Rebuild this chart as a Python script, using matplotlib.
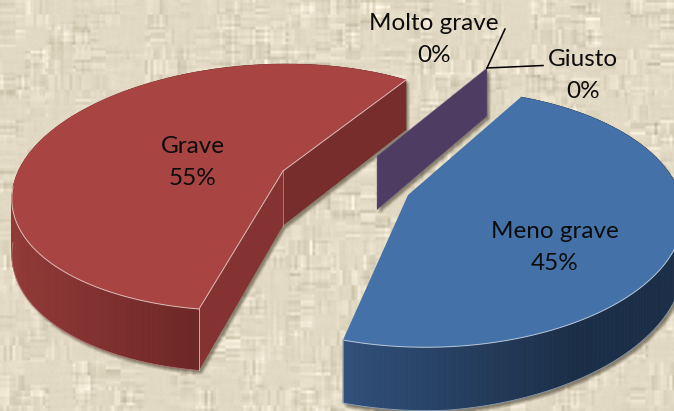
import numpy as np
import matplotlib
matplotlib.use('Agg')
import matplotlib.pyplot as plt
from matplotlib.patches import Polygon
from matplotlib.path import Path
from matplotlib.colors import to_rgb

categories = ['Molto grave', 'Grave', 'Meno grave', 'Giusto']
values = [0, 55, 45, 0]
label_xy = [(434, 23.5), (193, 146.5), (555, 231.5), (583, 59.5)]

W, H_PX = 674, 411
plt.rcParams['font.family'] = ['Lato', 'DejaVu Sans']


def dlt(w, p):
    A = []
    for (x, y), (u, v) in zip(w, p):
        A.append([x, y, 1, 0, 0, 0, -u*x, -u*y, -u])
        A.append([0, 0, 0, x, y, 1, -v*x, -v*y, -v])
    return np.linalg.svd(np.array(A))[2][-1].reshape(3, 3)


def proj(H, w):
    w = np.atleast_2d(w)
    q = H @ np.c_[w, np.ones(len(w))].T
    return (q[:2] / q[2]).T


def circ(t):
    t = np.radians(t)
    return np.c_[np.cos(t), np.sin(t)]


def depth(p):
    p = np.atleast_2d(p)
    return 46 + 0.05 * p[:, 1] - 0.03 * np.clip(p[:, 0] - 450, 0, None)


def lower(p):
    p = np.atleast_2d(p).astype(float)
    return np.c_[p[:, 0], p[:, 1] + depth(p)]


def mix(c1, c2, f):
    return tuple(np.array(to_rgb(c1)) * (1 - f) + np.array(to_rgb(c2)) * f)


def blur(a, n):
    pad = n
    b = np.pad(a, pad, mode='edge')
    k = np.ones(n) / n
    b = np.apply_along_axis(lambda r: np.convolve(r, k, mode='same'), 0, b)
    b = np.apply_along_axis(lambda r: np.convolve(r, k, mode='same'), 1, b)
    return b[pad:-pad, pad:-pad]


def burlap():
    rng = np.random.default_rng(11)
    yy, xx = H_PX, W
    seg = 15
    rows = rng.normal(size=(yy // 3 + 2, xx // seg + 2))
    rows = np.kron(rows, np.ones((3, seg)))[:yy, :xx]
    cols = rng.normal(size=(yy // seg + 2, xx // 3 + 2))
    cols = np.kron(cols, np.ones((seg, 3)))[:yy, :xx]
    weight = blur(np.kron(rng.random((yy // 24 + 2, xx // 24 + 2)),
                          np.ones((24, 24)))[:yy, :xx], 6)
    weight = np.clip((weight - 0.3) * 2.4, 0.1, 1)
    ink = blur(rows, 2) * weight + blur(cols, 2) * weight[::-1, ::-1]
    g = 8.0 * ink + 2.0 * blur(rng.normal(size=(yy, xx)), 2)
    base = np.array([226, 218, 196], float)
    img = base[None, None] + g[..., None] * np.array([1.0, 1.0, 1.1])
    return np.clip(img, 0, 255).astype(np.uint8)


cum = np.cumsum(values) * 3.6
a0, a1, a2 = cum[0], cum[1], cum[2]

red_apex, blue_apex = (283, 171), (408, 195)
H_red = dlt(np.vstack([[0, 0], circ(a0), circ(a1), circ(127)]),
            [red_apex, (406, 80), (199, 309), (13, 187)])
H_blue = dlt(np.vstack([[0, 0], circ(a1), circ(a2), circ(261)]),
             [blue_apex, (343, 340), (521, 97), (640, 288)])

rim_red = proj(H_red, circ(np.linspace(a0, a1, 160)))
rim_blue = proj(H_blue, circ(np.linspace(a1, a2, 160)))
c_red = proj(H_red, [[0, 0]])
c_blue = proj(H_blue, [[0, 0]])
wall = np.array([(377, 156), (487, 68)], float)


def side_quad(a, b):
    return np.vstack([a, b, lower(b), lower(a)])


fig = plt.figure(figsize=(W / 100, H_PX / 100), dpi=100)
ax = fig.add_axes([0, 0, 1, 1])
ax.set_xlim(0, W); ax.set_ylim(H_PX, 0); ax.axis('off')
ax.imshow(burlap(), extent=(0, W, H_PX, 0), zorder=0, aspect='auto', interpolation='bilinear')

# soft shadow from the silhouette of all pieces (computed shifted)
gx, gy = np.meshgrid(np.arange(W) + .5 - 2, np.arange(H_PX) + .5 - 3)
grid = np.c_[gx.ravel(), gy.ravel()]
sil = np.zeros(grid.shape[0], bool)
pieces = [lower(np.vstack([c_red, rim_red])), lower(np.vstack([c_blue, rim_blue])),
          np.vstack([c_red, rim_red]), np.vstack([c_blue, rim_blue]),
          side_quad(c_red, rim_red[:1]), side_quad(c_red, rim_red[-1:]),
          side_quad(c_blue, rim_blue[:1]), side_quad(wall[:1], wall[1:])]
for rim in (rim_red, rim_blue):
    for i in range(0, len(rim) - 4, 4):
        pieces.append(side_quad(rim[i:i+1], rim[i+4:i+5]))
for poly in pieces:
    sil |= Path(poly).contains_points(grid)
mask = blur(sil.reshape(H_PX, W).astype(float), 4)
shadow = np.zeros((H_PX, W, 4))
shadow[..., :3] = to_rgb('#4f4636')
shadow[..., 3] = mask * 0.6
ax.imshow(shadow, extent=(0, W, H_PX, 0), zorder=1, aspect='auto', interpolation='bilinear')

# red slice
for i in range(len(rim_red) - 1):
    a, b = rim_red[i:i+1], rim_red[i+1:i+2]
    f = np.clip((a[0, 0] - 15) / 185, 0, 1)
    c = mix('#913937', '#6C2726', f)
    ax.add_patch(Polygon(side_quad(a, b), fc=c, ec=c, lw=0.4, zorder=2))
ax.add_patch(Polygon(side_quad(c_red, rim_red[:1]), fc='#772D2B', ec='none', zorder=3))
ax.add_patch(Polygon(side_quad(c_red, rim_red[-1:]), fc='#853232', ec='none', zorder=3))
ax.add_patch(Polygon(np.vstack([c_red, rim_red]), fc='#A84442', ec='none', zorder=4))

# the zero-size slice shows as one wall
ax.add_patch(Polygon(side_quad(wall[:1], wall[1:]), fc='#4F3C63', ec='#7A6A88', lw=0.3, zorder=2))

# blue slice
for i in range(len(rim_blue) - 1):
    a, b = rim_blue[i:i+1], rim_blue[i+1:i+2]
    f = np.clip((a[0, 0] - 343) / 230, 0, 1)
    c = mix('#30507A', '#1B2E47', f)
    ax.add_patch(Polygon(side_quad(a, b), fc=c, ec=c, lw=0.4, zorder=2))
ax.add_patch(Polygon(np.vstack([c_blue, rim_blue]), fc='#4472A8', ec='none', zorder=4))

# light bevel lines
edge_r = '#DDBDBA'
edge_b = '#B9C8DC'
front_r = rim_red[rim_red[:, 1] > 187]
ax.plot(*front_r.T, color=edge_r, lw=0.7, zorder=5)
ax.plot(*np.vstack([c_red, rim_red[:1]]).T, color=edge_r, lw=0.7, zorder=5)
ax.plot(*np.vstack([c_red, rim_red[-1:]]).T, color=edge_r, lw=0.7, zorder=5)
ax.plot(*np.vstack([c_red, lower(c_red)]).T, color=edge_r, lw=0.5, alpha=.7, zorder=5)
ax.plot(*np.vstack([rim_red[-1:], lower(rim_red[-1:])]).T, color=edge_r, lw=0.6, zorder=5)
ax.plot(*lower(front_r).T, color=edge_r, lw=0.5, alpha=.6, zorder=5)
front_b = rim_blue[:int(np.argmax(rim_blue[:, 0])) + 1]
ax.plot(*front_b.T, color=edge_b, lw=0.7, zorder=5)
ax.plot(*lower(front_b).T, color=edge_b, lw=0.6, alpha=.7, zorder=5)
ax.plot(*np.vstack([rim_blue[:1], lower(rim_blue[:1])]).T, color=edge_b, lw=0.5, alpha=.7, zorder=5)

# leader lines
tip = wall[1]
ax.plot([tip[0], 505], [tip[1], 29], color='k', lw=1.1, zorder=6)
ax.plot([tip[0], 543], [tip[1], 65.5], color='k', lw=1.1, zorder=6)

for name, v, (x, y) in zip(categories, values, label_xy):
    ax.text(x, y, name, ha='center', va='center', fontsize=17.5, color='#0C0C0C', zorder=7)
    ax.text(x, y + 32, f'{v}%', ha='center', va='center', fontsize=17.5, color='#0C0C0C', zorder=7)

fig.savefig('out.png', dpi=100)
